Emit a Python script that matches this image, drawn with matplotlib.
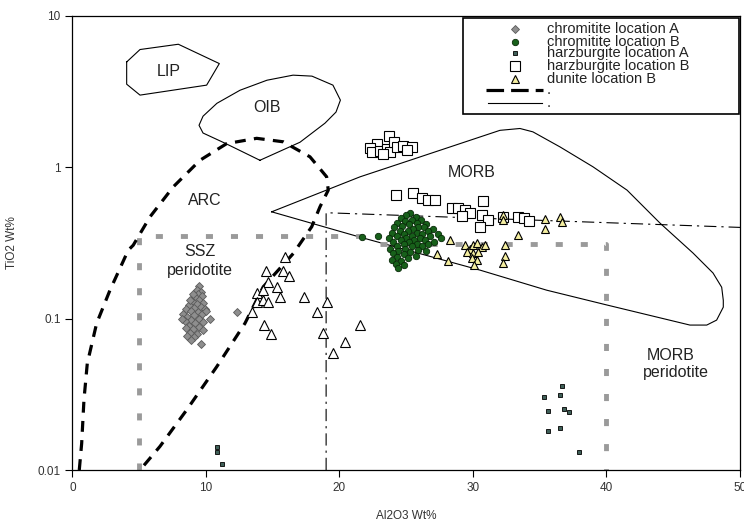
import matplotlib
matplotlib.use("Agg")
import matplotlib.pyplot as plt
from matplotlib.patches import Rectangle
from matplotlib.lines import Line2D

plt.rcParams['font.family'] = ['Liberation Sans', 'DejaVu Sans']

# field outlines (Al2O3, TiO2)
lip_x = [4.06, 5.06, 7.93, 11.0, 10.05, 5.06, 4.06, 4.06]
lip_y = [4.95, 5.98, 6.48, 4.83, 3.48, 2.99, 3.53, 4.95]

oib_x = [14.04, 11.42, 9.78, 9.48, 9.78, 10.82, 12.55, 14.57, 16.52, 17.94, 19.51, 20.07, 19.74, 18.91, 17.04, 14.04]
oib_y = [1.11, 1.44, 1.68, 1.89, 2.17, 2.64, 3.22, 3.75, 4.05, 3.99, 3.48, 2.77, 2.31, 1.95, 1.46, 1.11]

morb_x = [14.92, 21.54, 25.28, 29.03, 32.02, 33.52, 34.49, 36.52, 38.99, 41.54, 44.01, 46.48, 47.98, 48.63,
          48.75, 48.75, 48.25, 47.51, 46.25, 40.02, 35.52, 30.52, 25.53, 21.54, 14.92]
morb_y = [0.507, 0.863, 1.11, 1.43, 1.75, 1.80, 1.71, 1.36, 1.005, 0.705, 0.427, 0.271, 0.200, 0.161,
          0.132, 0.119, 0.0977, 0.0906, 0.0906, 0.123, 0.154, 0.209, 0.276, 0.345, 0.507]

arc_x = [0.51, 0.69, 0.86, 1.11, 1.81, 2.81, 4.18, 4.55, 5.81, 7.55, 9.55, 11.55, 13.80, 15.79, 17.79,
         19.04, 19.16, 18.54, 17.92, 16.54, 14.29, 12.92, 10.80, 8.55, 6.55, 5.06]
arc_y = [0.01, 0.015, 0.029, 0.0506, 0.093, 0.154, 0.283, 0.305, 0.47, 0.741, 1.11, 1.43, 1.55, 1.47, 1.17,
         0.863, 0.705, 0.547, 0.404, 0.269, 0.162, 0.093, 0.048, 0.0249, 0.0143, 0.01]

ssz_box_x = [5, 5, 22]
ssz_box_y = [0.01, 0.35, 0.35]
morbp_box_x = [23, 40, 40]
morbp_box_y = [0.31, 0.31, 0.01]

dd_x = [19, 19, 50]
dd_y = [0.01, 0.50, 0.40]

# samples
chrA_x = [9.5, 9.3, 9.6, 9.4, 9.7, 9.2, 9.5, 9.0, 9.8, 9.3, 8.7, 9.6, 9.1, 8.5, 9.9, 8.9, 9.4, 8.3, 9.7,
          9.1, 8.6, 10.3, 9.5, 8.9, 8.4, 9.8, 9.2, 8.7, 9.5, 8.5, 9.0, 9.8, 8.8, 9.3, 8.6, 9.1, 8.9, 9.6,
          12.3, 10.0, 8.2, 9.0, 8.8]
chrA_y = [0.165, 0.155, 0.15, 0.145, 0.14, 0.138, 0.133, 0.128, 0.127, 0.125, 0.122, 0.12, 0.118, 0.115,
          0.115, 0.112, 0.11, 0.108, 0.107, 0.105, 0.103, 0.1, 0.1, 0.098, 0.096, 0.095, 0.093, 0.09,
          0.088, 0.086, 0.085, 0.084, 0.08, 0.079, 0.077, 0.075, 0.072, 0.068, 0.11, 0.112, 0.1, 0.145, 0.133]

chrB_x = [25.3, 25.0, 25.7, 24.6, 25.4, 26.1, 24.9, 25.8, 24.3, 26.5, 25.2, 24.7, 25.9, 26.3, 24.1, 25.5,
          27.0, 24.5, 25.1, 26.6, 23.9, 25.8, 26.2, 24.8, 27.4, 25.4, 24.3, 26.8, 23.7, 25.0, 26.0, 27.6,
          24.6, 25.6, 26.4, 24.0, 25.2, 27.1, 24.8, 25.8, 26.6, 24.3, 25.4, 26.2, 23.8, 24.9, 25.9, 24.4,
          25.3, 26.5, 24.0, 24.8, 25.7, 24.3, 25.1, 23.9, 24.6, 24.2, 24.8, 24.4, 21.7, 22.9]
chrB_y = [0.50, 0.48, 0.47, 0.46, 0.45, 0.45, 0.44, 0.43, 0.43, 0.42, 0.42, 0.41, 0.40, 0.40, 0.40, 0.39,
          0.39, 0.38, 0.38, 0.38, 0.37, 0.37, 0.36, 0.36, 0.36, 0.35, 0.35, 0.35, 0.34, 0.34, 0.34, 0.34,
          0.33, 0.33, 0.33, 0.32, 0.32, 0.32, 0.31, 0.31, 0.31, 0.30, 0.30, 0.30, 0.29, 0.29, 0.285, 0.28,
          0.275, 0.28, 0.27, 0.265, 0.26, 0.255, 0.25, 0.245, 0.24, 0.23, 0.225, 0.215, 0.344, 0.35]

harzA_x = [10.85, 10.85, 11.22, 36.64, 36.52, 35.34, 35.6, 36.82, 37.17, 36.52, 35.6, 37.96]
harzA_y = [0.0141, 0.0132, 0.0110, 0.036, 0.0313, 0.0303, 0.0244, 0.0253, 0.024, 0.019, 0.0181, 0.0131]

harzB_x = [23.73, 22.79, 22.28, 22.40, 23.03, 23.54, 23.78, 24.10, 24.28, 24.78, 25.41, 25.03, 23.28,
           24.23, 25.53, 26.16, 26.65, 27.15, 30.77, 28.40, 28.88, 29.40, 29.78, 29.15, 30.65, 31.09,
           30.49, 32.27, 33.39, 33.82, 34.22]
harzB_y = [1.61, 1.43, 1.34, 1.26, 1.28, 1.31, 1.26, 1.46, 1.35, 1.38, 1.36, 1.29, 1.23,
           0.653, 0.670, 0.621, 0.605, 0.61, 0.601, 0.534, 0.540, 0.524, 0.501, 0.478, 0.482, 0.450,
           0.403, 0.471, 0.466, 0.459, 0.439]

dunB_x = [28.28, 27.33, 28.15, 29.40, 29.78, 30.02, 30.28, 30.65, 30.90, 29.53, 30.02, 30.40, 29.90,
          30.28, 30.07, 32.40, 32.40, 32.27, 33.39, 32.22, 32.27, 35.39, 35.39, 36.52, 36.64]
dunB_y = [0.330, 0.267, 0.240, 0.305, 0.290, 0.305, 0.314, 0.298, 0.305, 0.276, 0.269, 0.276, 0.250,
          0.243, 0.226, 0.305, 0.257, 0.232, 0.356, 0.482, 0.447, 0.452, 0.388, 0.466, 0.436]

dunA_x = [15.92, 14.49, 15.79, 16.24, 14.67, 15.30, 13.80, 14.29, 13.84, 14.25, 14.67, 15.54, 17.34,
          19.04, 18.29, 13.42, 14.34, 14.85, 18.74, 19.54, 20.41, 21.54]
dunA_y = [0.256, 0.206, 0.207, 0.191, 0.175, 0.161, 0.148, 0.154, 0.129, 0.132, 0.129, 0.139, 0.139,
          0.129, 0.110, 0.110, 0.0906, 0.079, 0.080, 0.0594, 0.0703, 0.0906]

legend_labels = ['chromitite location A', 'chromitite location B', 'harzburgite location A',
                 'harzburgite location B', 'dunite location B', '.', '.']

fig = plt.figure(figsize=(7.44, 5.22), dpi=100)
ax = fig.add_axes([0.0974, 0.0996, 0.8972, 0.8703])
ax.set_yscale('log')
ax.set_xlim(0, 50)
ax.set_ylim(0.01, 10)

thin = dict(color='black', lw=0.8)
ax.plot(lip_x, lip_y, **thin)
ax.plot(oib_x, oib_y, **thin)
ax.plot(morb_x, morb_y, **thin)
ax.plot(dd_x, dd_y, color='black', lw=0.8, dashes=(11, 4.5, 2, 4.5))
ax.plot(ssz_box_x, ssz_box_y, color='#9a9a9a', lw=3.5, dashes=(1.45, 3.7))
ax.plot(morbp_box_x, morbp_box_y, color='#9a9a9a', lw=3.5, dashes=(1.45, 3.7))
ax.plot(arc_x, arc_y, color='black', lw=2.3, dashes=(3.4, 2.6))

ax.plot(dunA_x, dunA_y, '^', ms=7, mfc='white', mec='black', mew=0.8, ls='none')
ax.plot(chrA_x, chrA_y, 'D', ms=4, mfc='#8e8e8e', mec='#5a5a5a', mew=0.6, ls='none')
ax.plot(harzB_x, harzB_y, 's', ms=7, mfc='white', mec='black', mew=0.8, ls='none')
ax.plot(chrB_x, chrB_y, 'o', ms=4.6, mfc='#17601a', mec='#082a08', mew=0.6, ls='none')
ax.plot(dunB_x, dunB_y, '^', ms=5.5, mfc='#f4eea0', mec='black', mew=0.8, ls='none')
ax.plot(harzA_x, harzA_y, 's', ms=3.2, mfc='#3f5f58', mec='black', mew=0.6, ls='none')

lab = dict(fontsize=11.5, color='#222222', ha='center', va='center')
ax.text(7.18, 4.26, 'LIP', **lab)
ax.text(14.55, 2.48, 'OIB', **lab)
ax.text(29.9, 0.916, 'MORB', **lab)
ax.text(9.93, 0.605, 'ARC', **lab)
ax.text(9.55, 0.276, 'SSZ', **lab)
ax.text(9.55, 0.209, 'peridotite', **lab)
ax.text(44.8, 0.0574, 'MORB', **lab)
ax.text(45.2, 0.0438, 'peridotite', **lab)

ax.set_xticks([0, 10, 20, 30, 40, 50])
ax.set_xticklabels(['0', '10', '20', '30', '40', '50'])
ax.set_yticks([0.01, 0.1, 1, 10])
ax.set_yticklabels(['0.01', '0.1', '1', '10'])
ax.minorticks_off()
ax.tick_params(labelsize=8.5, labelcolor='#333333', length=5, width=0.8)
ax.set_xlabel('Al2O3 Wt%', fontsize=8.5, color='#333333', labelpad=12)
ax.set_ylabel('TiO2 Wt%', fontsize=8.5, color='#333333', labelpad=14)
for s in ax.spines.values():
    s.set_linewidth(0.9)

# legend box drawn by hand (rows sit tight like the original)
ax.add_patch(Rectangle((0.585, 0.784), 0.4135, 0.211, transform=ax.transAxes,
                       fill=False, lw=1.2, ec='black', zorder=5))
rows = [0.970, 0.943, 0.918, 0.889, 0.861, 0.836, 0.808]
mk = [dict(marker='D', ms=4, mfc='#8e8e8e', mec='#5a5a5a', mew=0.6),
      dict(marker='o', ms=4.6, mfc='#17601a', mec='#082a08', mew=0.6),
      dict(marker='s', ms=3.2, mfc='#3f5f58', mec='black', mew=0.6),
      dict(marker='s', ms=7, mfc='white', mec='black', mew=0.8),
      dict(marker='^', ms=5.5, mfc='#f4eea0', mec='black', mew=0.8)]
for i, kw in enumerate(mk):
    ax.plot([0.663], [rows[i]], transform=ax.transAxes, ls='none', zorder=6, **kw)
ax.add_line(Line2D([0.620, 0.705], [rows[5]] * 2, transform=ax.transAxes, color='black',
                   lw=2.3, dashes=(5.5, 2.2), zorder=6))
ax.add_line(Line2D([0.623, 0.704], [rows[6]] * 2, transform=ax.transAxes, color='black',
                   lw=0.8, zorder=6))
for i, t in enumerate(legend_labels):
    ax.text(0.711, rows[i], t, transform=ax.transAxes, fontsize=10.5, color='#222222',
            va='center', ha='left', zorder=6)

fig.savefig('out.png', dpi=100)
